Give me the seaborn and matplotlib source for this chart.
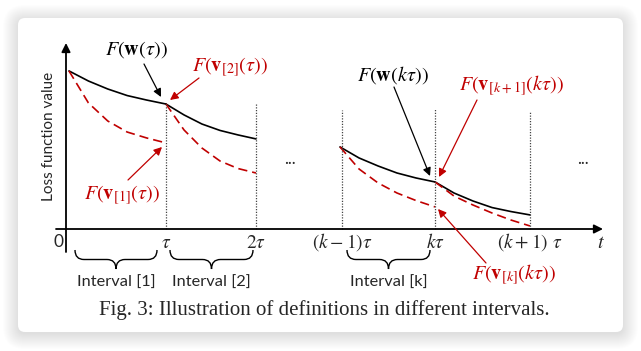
import numpy as np
import pandas as pd
import seaborn as sns
import matplotlib.pyplot as plt
from matplotlib.patches import FancyBboxPatch, PathPatch
from matplotlib.path import Path
from matplotlib.transforms import IdentityTransform

sns.set_theme(style="white")
plt.rcParams['font.family'] = ['Lato', 'DejaVu Sans']
plt.rcParams['mathtext.fontset'] = 'stix'

RED = '#c00000'

# sample times along each interval (drawing units, tau ~ 1)
t_int1 = [0.032, 0.241, 0.449, 0.658, 0.867, 1.075]
t_int2 = [1.075, 1.269, 1.462, 1.656, 1.849, 2.043]
t_intk = [2.946, 3.151, 3.355, 3.559, 3.763, 3.968]
t_intk1 = [3.968, 4.172, 4.376, 4.581, 4.785, 4.989]

# loss values: global model w and interval models v
w_int1 = [0.988, 0.925, 0.875, 0.834, 0.806, 0.781]
v_int1 = [0.988, 0.788, 0.675, 0.606, 0.569, 0.538]
w_int2 = [0.781, 0.713, 0.656, 0.616, 0.588, 0.563]
v_int2 = [0.781, 0.619, 0.506, 0.425, 0.378, 0.350]
w_intk = [0.513, 0.444, 0.394, 0.350, 0.319, 0.294]
v_intk = [0.513, 0.375, 0.288, 0.225, 0.178, 0.138]
w_intk1 = [0.294, 0.225, 0.175, 0.134, 0.109, 0.088]
v_intk1 = [0.294, 0.206, 0.150, 0.100, 0.056, 0.019]

boundaries = [0, 1.075, 2.043, 2.968, 3.968, 4.989]
tick_labels = ['0', r'$\tau$', r'$2\tau$', r'$(k-1)\tau$', r'$k\tau$', r'$(k+1)\ \tau$']
guide_t = [1.075, 2.043, 2.968, 3.968, 4.989]
guide_top = [0.788, 0.788, 0.744, 0.756, 0.731]
intervals = ['Interval [1]', 'Interval [2]', 'Interval [k]']

rows = []
segs = [(t_int1, w_int1, v_int1), (t_int2, w_int2, v_int2),
        (t_intk, w_intk, v_intk), (t_intk1, w_intk1, v_intk1)]
for i, (t, w, v) in enumerate(segs):
    for tt, a, b in zip(t, w, v):
        rows.append(dict(t=tt, loss=a, curve='w', seg=f'w{i}'))
        rows.append(dict(t=tt, loss=b, curve='v', seg=f'v{i}'))
df = pd.DataFrame(rows)

fig = plt.figure(figsize=(6.41, 3.51), dpi=100)
fig.patch.set_facecolor('white')

# card with soft shadow (pixel coordinates)
for k in range(16, 0, -1):
    fig.patches.append(FancyBboxPatch((18 - k + 1, 351 - 332 - k - 1), 605 + 2 * k - 2, 314 + 2 * k - 2,
                                      boxstyle=f'round,pad=0,rounding_size={6 + k}',
                                      transform=IdentityTransform(), fc='black', ec='none',
                                      alpha=0.008, zorder=0))
fig.patches.append(FancyBboxPatch((18, 351 - 332), 605, 314, boxstyle='round,pad=0,rounding_size=7',
                                  transform=IdentityTransform(), fc='white', ec='none', zorder=1))

ax = fig.add_axes([0, 0, 1, 1])
ax.set_zorder(5)
ax.patch.set_alpha(0)


def P(x, y):
    # pixel position -> drawing units
    return ((x - 66) / 93, (229 - y) / 160)


sns.lineplot(data=df, x='t', y='loss', hue='curve', style='curve', units='seg', estimator=None,
             sort=False, palette={'w': 'black', 'v': RED}, dashes={'w': '', 'v': (5.5, 3)},
             lw=1.2, legend=False, ax=ax)

ax.vlines(guide_t, 0, guide_top, colors='#444444', linestyles=(0, (1, 1.2)), lw=0.9)

# axes
arr = dict(arrowstyle='-|>', color='black', lw=1.3, mutation_scale=13, shrinkA=0, shrinkB=0)
ax.annotate('', xy=P(603, 229), xytext=P(56, 229), arrowprops=arr)
ax.annotate('', xy=P(66, 43), xytext=P(66, 252), arrowprops=arr)

ax.text(*P(49, 136), 'Loss function value', rotation=90, ha='center', va='center', fontsize=11)
ax.text(*P(58, 242), '0', ha='center', va='center', fontsize=12.5)
for b, lab in zip(boundaries[1:], tick_labels[1:]):
    ax.text(b, P(0, 242)[1], lab, ha='center', va='center', fontsize=14)
ax.text(*P(601, 242), r'$t$', ha='center', va='center', fontsize=14.5)

ax.text(*P(290, 159), '...', ha='center', va='center', fontsize=12)
ax.text(*P(583, 159), '...', ha='center', va='center', fontsize=12)


def brace(x0, x1, y0, h, r=9):
    xm = (x0 + x1) / 2
    ym = y0 + h / 2
    pts = [(x0, y0), (x0, ym), (x0 + r, ym), (xm - r, ym), (xm, ym), (xm, y0 + h),
           (xm, ym), (xm + r, ym), (x1 - r, ym), (x1, ym), (x1, y0)]
    codes = [Path.MOVETO, Path.CURVE3, Path.CURVE3, Path.LINETO, Path.CURVE3, Path.CURVE3,
             Path.CURVE3, Path.CURVE3, Path.LINETO, Path.CURVE3, Path.CURVE3]
    ax.add_patch(PathPatch(Path([P(*p) for p in pts], codes), fc='none', ec='black', lw=1.0))


for (x0, x1), lab in zip([(75, 157), (170, 253), (347, 430)], intervals):
    brace(x0, x1, 250, 19)
    ax.text(*P((x0 + x1) / 2, 283), lab, ha='center', va='center', fontsize=11.8)

# annotations
def note(text, pos, tail, tip, color):
    ax.text(*P(*pos), text, ha='center', va='center', fontsize=14.5, color=color)
    ax.annotate('', xy=P(*tip), xytext=P(*tail),
                arrowprops=dict(arrowstyle='-|>', color=color, lw=0.9, mutation_scale=12,
                                shrinkA=0, shrinkB=0))


note(r'$F(\mathbf{w}(\tau))$', (136, 50), (144, 64), (161, 97), 'black')
note(r'$F(\mathbf{v}_{[2]}(\tau))$', (230, 67), (199, 78), (170, 100), RED)
note(r'$F(\mathbf{v}_{[1]}(\tau))$', (122, 195), (128, 180), (162, 147), RED)
note(r'$F(\mathbf{w}(k\tau))$', (393, 75), (394, 87), (430, 176), 'black')
note(r'$F(\mathbf{v}_{[k+1]}(k\tau))$', (512, 86), (477, 100), (439, 177), RED)
note(r'$F(\mathbf{v}_{[k]}(k\tau))$', (514, 275), (486, 263), (438, 209), RED)

ax.text(*P(324, 310), 'Fig. 3: Illustration of definitions in different intervals.',
        ha='center', va='center', fontsize=15, family='Liberation Serif')

ax.set_xlim(-66 / 93, 575 / 93)
ax.set_ylim(-122 / 160, 229 / 160)
ax.axis('off')

fig.savefig('out.png', dpi=100)
